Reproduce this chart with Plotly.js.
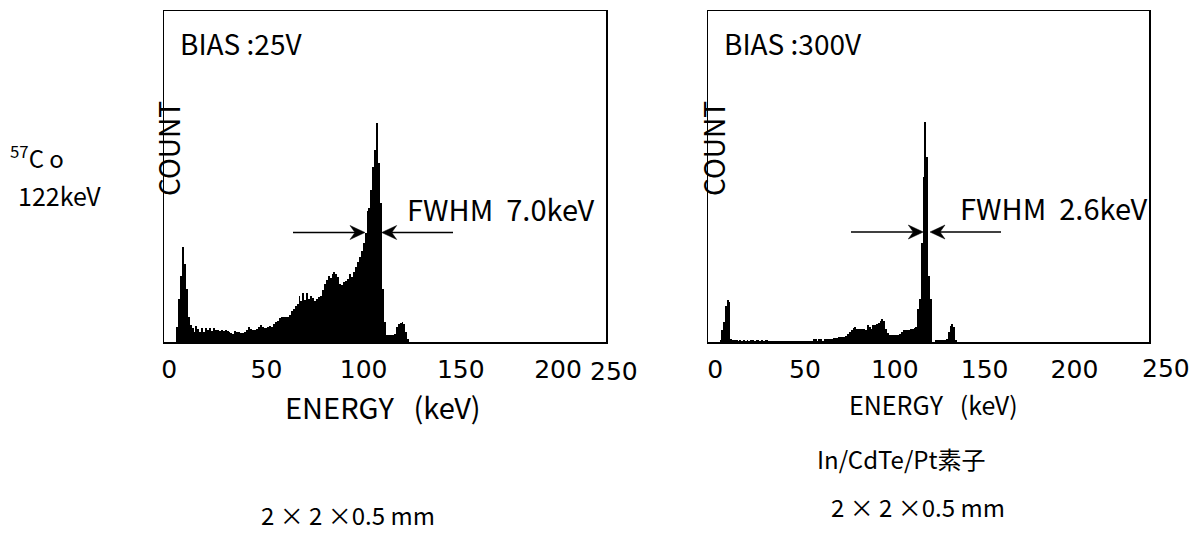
<!DOCTYPE html>
<html>
<head>
<meta charset="utf-8">
<script src="https://cdn.plot.ly/plotly-3.0.1.min.js"></script>
<style>
html,body{margin:0;padding:0;background:#fff;}
#chart{width:1196px;height:533px;}
</style>
</head>
<body>
<div id="chart"></div>
<script>
// ---- data ----
// bin width 1 keV, counts on an arbitrary 0..1000 scale
const binWidthKeV = 1;
const leftStartKeV = 4;   // BIAS 25V spectrum, first bin centre
const leftCounts = [
  45,130,200,286,236,161,76,51,41,31,            // 4-13
  49,39,31,43,31,43,35,43,33,43,                 // 14-23
  35,35,33,36,33,36,33,31,27,25,                 // 24-33
  33,31,29,27,26,31,36,45,39,36,                 // 34-43
  36,39,46,51,45,41,41,46,49,46,                 // 44-53
  53,59,63,73,75,76,77,77,83,93,                 // 54-63
  100,110,116,140,124,148,126,148,131,140,       // 64-73
  134,124,131,136,140,158,174,186,200,192,       // 74-83
  206,210,206,196,176,172,180,184,190,206,       // 84-93
  196,212,228,242,258,276,300,330,395,405,       // 94-103
  460,530,580,661,540,420,160,60,22,21,          // 104-113
  21,22,24,46,54,58,61,55,30,8                   // 114-123
];
const rightStartKeV = 3;  // BIAS 300V spectrum, first bin centre
const rightCounts = [
  7,35,60,110,127,122,10,7,7,7,                  // 3-12
  2,7,2,7,2,7,2,7,7,2,                           // 13-22
  7,7,2,7,2,7,7,2,2,2,                           // 23-32
  2,2,2,2,2,2,2,2,2,2,                           // 33-42
  2,2,2,2,2,2,2,2,2,2,                           // 43-52
  2,2,8,8,2,8,8,2,8,10,                          // 53-62
  10,10,10,12,12,12,14,15,15,16,                 // 63-72
  18,25,30,35,42,45,40,38,38,40,                 // 73-82
  38,35,50,45,40,50,52,55,58,62,                 // 83-92
  68,62,40,28,22,22,22,22,22,22,                 // 93-102
  24,30,35,35,35,36,38,40,42,46,                 // 103-112
  100,130,300,500,665,560,200,130,0,0,           // 113-122
  5,5,5,5,5,5,8,30,48,55,                        // 123-132
  45,6                                           // 133-134
];
const tickVals = [0, 50, 100, 150, 200];
const tickText = ['0', '50', '100', '150', '200'];
const lastTickText = '250';
const xTitle = 'ENERGY &nbsp;&nbsp;(keV)';
const yTitle = 'COUNT';

const FONT = 'Noto Sans CJK JP, Noto Sans, sans-serif';
const TICKFONT = 'DejaVu Sans, sans-serif';

const traces = [
  {type:'bar', x0:leftStartKeV, dx:binWidthKeV, y:leftCounts, width:binWidthKeV,
   xaxis:'x', yaxis:'y', marker:{color:'#000', line:{width:0}}, hoverinfo:'x+y'},
  {type:'bar', x0:rightStartKeV, dx:binWidthKeV, y:rightCounts, width:binWidthKeV,
   xaxis:'x2', yaxis:'y2', marker:{color:'#000', line:{width:0}}, hoverinfo:'x+y'}
];

const W = 1196, H = 533;
const px = v => v / W, py = v => 1 - v / H;

// FWHM arrow (notched head) as paper-space shapes, from pixel positions
function arrowShapes(tailX, tipX, y) {
  const dir = tipX > tailX ? 1 : -1;
  const L = 15, hw = 7, notch = 10;
  const line = {type:'line', xref:'paper', yref:'paper',
    x0:px(tailX), x1:px(tipX - dir*notch), y0:py(y), y1:py(y),
    line:{color:'#000', width:1.5}};
  const head = {type:'path', xref:'paper', yref:'paper',
    path:'M ' + px(tipX) + ' ' + py(y) +
         ' L ' + px(tipX - dir*L) + ' ' + py(y - hw) +
         ' L ' + px(tipX - dir*notch) + ' ' + py(y) +
         ' L ' + px(tipX - dir*L) + ' ' + py(y + hw) + ' Z',
    fillcolor:'#000', line:{color:'#000', width:0.5}};
  return [line, head];
}

const axisBase = {
  showline:true, mirror:true, linecolor:'#000', linewidth:1.5,
  showgrid:false, zeroline:false, ticks:'', fixedrange:true
};

const layout = {
  width:W, height:H,
  margin:{l:0,r:0,t:0,b:0},
  paper_bgcolor:'#fff', plot_bgcolor:'#fff',
  showlegend:false, bargap:0,
  font:{family:FONT, color:'#000'},
  xaxis:Object.assign({}, axisBase, {
    domain:[px(164), px(606)], range:[-2.7, 224.7], anchor:'y',
    tickvals:tickVals, ticktext:tickText, tickfont:{size:25, family:TICKFONT},
    ticklabelstandoff:4
  }),
  yaxis:Object.assign({}, axisBase, {
    domain:[py(342), py(11)], range:[0, 1000], anchor:'x', showticklabels:false
  }),
  xaxis2:Object.assign({}, axisBase, {
    domain:[px(708), px(1149)], range:[-4.0, 241.5], anchor:'y2',
    tickvals:tickVals, ticktext:tickText, tickfont:{size:25, family:TICKFONT},
    ticklabelstandoff:4
  }),
  yaxis2:Object.assign({}, axisBase, {
    domain:[py(342), py(11)], range:[0, 1000], anchor:'x2', showticklabels:false
  }),
  shapes:[].concat(
    arrowShapes(293, 365, 232.5),
    arrowShapes(453, 381.7, 232.5),
    arrowShapes(851, 923.3, 232),
    arrowShapes(1001, 930, 232)
  ),
  annotations:[
    // last tick labels (250) sit at the right edge of each box
    {xref:'paper', yref:'paper', x:px(614), y:py(371), text:lastTickText, showarrow:false,
     font:{size:25, family:TICKFONT}, xanchor:'center', yanchor:'middle'},
    {xref:'paper', yref:'paper', x:px(1166), y:py(368), text:lastTickText, showarrow:false,
     font:{size:25, family:TICKFONT}, xanchor:'center', yanchor:'middle'},
    // x titles
    {xref:'paper', yref:'paper', x:px(383), y:py(406), text:xTitle, showarrow:false,
     font:{size:29}, xanchor:'center', yanchor:'middle'},
    {xref:'paper', yref:'paper', x:px(933), y:py(404), text:xTitle, showarrow:false,
     font:{size:25}, xanchor:'center', yanchor:'middle'},
    // y titles
    {xref:'paper', yref:'paper', x:px(168), y:py(149), text:yTitle, textangle:-90, showarrow:false,
     font:{size:28}, xanchor:'center', yanchor:'middle'},
    {xref:'paper', yref:'paper', x:px(713), y:py(149), text:yTitle, textangle:-90, showarrow:false,
     font:{size:28}, xanchor:'center', yanchor:'middle'},
    // bias labels
    {xref:'paper', yref:'paper', x:px(178), y:py(43), text:'BIAS :25V', showarrow:false,
     font:{size:28}, xanchor:'left', yanchor:'middle'},
    {xref:'paper', yref:'paper', x:px(722), y:py(43), text:'BIAS :300V', showarrow:false,
     font:{size:28}, xanchor:'left', yanchor:'middle'},
    // FWHM labels
    {xref:'paper', yref:'paper', x:px(405), y:py(208), text:'FWHM &nbsp;7.0keV', showarrow:false,
     font:{size:29}, xanchor:'left', yanchor:'middle'},
    {xref:'paper', yref:'paper', x:px(958), y:py(207), text:'FWHM &nbsp;2.6keV', showarrow:false,
     font:{size:29}, xanchor:'left', yanchor:'middle'},
    // source label
    {xref:'paper', yref:'paper', x:px(8), y:py(157), text:'<sup>57</sup>C o', showarrow:false,
     font:{size:24}, xanchor:'left', yanchor:'middle'},
    {xref:'paper', yref:'paper', x:px(16), y:py(195), text:'122keV', showarrow:false,
     font:{size:25}, xanchor:'left', yanchor:'middle'},
    // captions
    {xref:'paper', yref:'paper', x:px(901), y:py(458), text:'In/CdTe/Pt素子', showarrow:false,
     font:{size:24}, xanchor:'center', yanchor:'middle'},
    {xref:'paper', yref:'paper', x:px(918), y:py(506), text:'2 × 2 ×0.5 mm', showarrow:false,
     font:{size:24}, xanchor:'center', yanchor:'middle'},
    {xref:'paper', yref:'paper', x:px(348), y:py(514), text:'2 × 2 ×0.5 mm', showarrow:false,
     font:{size:24}, xanchor:'center', yanchor:'middle'}
  ]
};

Plotly.newPlot('chart', traces, layout, {staticPlot:true, displayModeBar:false});
</script>
</body>
</html>
